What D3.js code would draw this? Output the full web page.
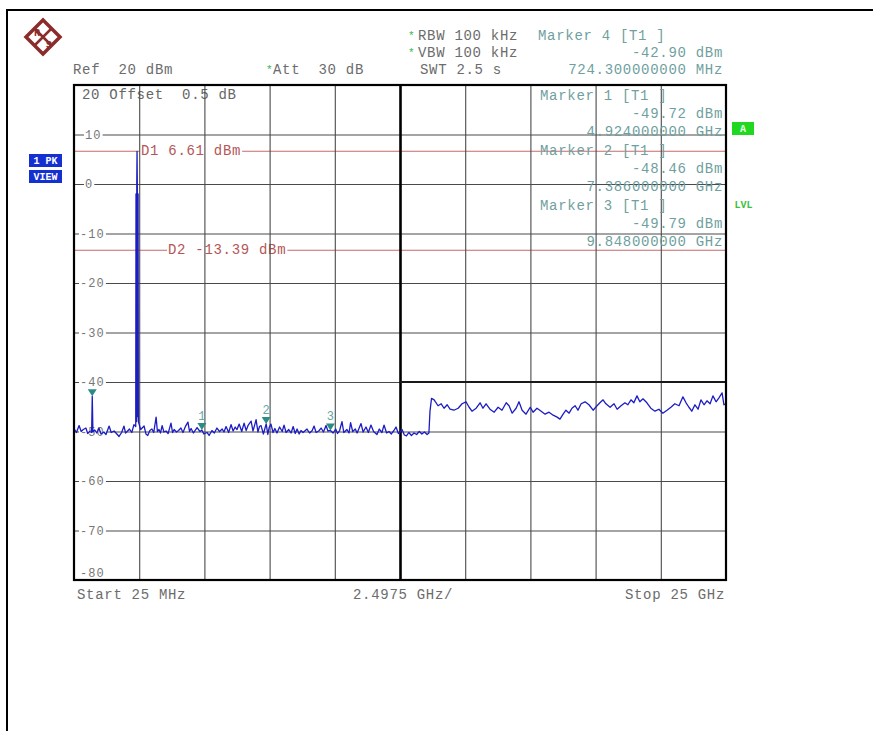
<!DOCTYPE html>
<html><head><meta charset="utf-8">
<script src="https://cdn.jsdelivr.net/npm/d3@7"></script>
<style>html,body{margin:0;padding:0;background:#fff;} text{white-space:pre;}</style>
</head><body><svg id="c" width="873" height="731" xmlns="http://www.w3.org/2000/svg"></svg>
<script>
// ---------------- data ----------------
const freqStartGHz = 0.025, freqStopGHz = 25, freqDivGHz = 2.4975, divisions = 10;
const refLevelDbm = 20, bottomLevelDbm = -80;
const yTickValues = [10, 0, -10, -20, -30, -40, -50, -60, -70, -80];
const yTickLabels = ["10", "0", "-10", "-20", "-30", "-40", "-50", "-60", "-70", "-80"];
const displayLineNames = ["D1", "D2"];
const displayLineLevels = [6.61, -13.39];
const displayLineLabels = ["D1 6.61 dBm", "D2 -13.39 dBm"];
const markerNumbers = [1, 2, 3, 4];
const markerFreqGHz = [4.924, 7.386, 9.848, 0.7243];
const markerLevelDbm = [-49.72, -48.46, -49.79, -42.90];
const markerLevelText = ["-49.72 dBm", "-48.46 dBm", "-49.79 dBm", "-42.90 dBm"];
const markerFreqText = ["4.924000000 GHz", "7.386000000 GHz", "9.848000000 GHz", "724.300000000 MHz"];
const headerLeft = ["Ref  20 dBm"];
const headerAtt = ["Att  30 dB"];
const headerSweep = ["RBW 100 kHz", "VBW 100 kHz", "SWT 2.5 s"];
const footerTexts = ["Start 25 MHz", "2.4975 GHz/", "Stop 25 GHz"];
const topPlotText = "20 Offset  0.5 dB";

// trace: [frequency GHz, level dBm]
const trace = [
[0.025,-49.4],[0.12,-50.2],[0.22,-48.8],[0.30,-50.0],[0.38,-49.6],[0.48,-49.3],[0.55,-50.4],[0.62,-50.0],
[0.70,-50.2],[0.7243,-42.9],[0.75,-50.1],[0.82,-49.7],[0.90,-50.3],[0.98,-49.3],[1.06,-50.5],[1.17,-50.1],
[1.25,-50.6],[1.37,-48.9],[1.45,-50.2],[1.56,-49.9],[1.65,-50.4],[1.75,-51.0],[1.85,-50.2],[1.94,-48.9],
[2.00,-50.3],[2.06,-50.0],[2.15,-49.5],[2.24,-50.2],[2.32,-48.6],[2.39,-49.0],[2.40,-2.0],[2.42,-48.0],
[2.43,0.5],[2.44,6.61],[2.45,0.0],[2.46,-47.0],[2.48,-2.0],[2.49,-48.0],[2.58,-49.6],[2.71,-48.9],[2.78,-50.5],[2.85,-50.8],
[2.93,-49.8],[3.01,-49.5],[3.08,-50.2],[3.17,-47.1],[3.22,-50.0],[3.28,-49.6],[3.34,-50.3],[3.40,-48.8],
[3.47,-50.1],[3.55,-49.9],[3.63,-50.4],[3.74,-48.3],[3.80,-50.2],[3.86,-49.6],[3.95,-50.1],[4.03,-49.8],
[4.12,-49.3],[4.20,-50.2],[4.30,-48.9],[4.39,-48.1],[4.45,-50.0],[4.51,-49.4],[4.60,-50.3],[4.74,-49.2],
[4.85,-50.0],[4.924,-49.72],[5.00,-50.5],[5.12,-50.2],[5.20,-50.8],[5.31,-49.8],[5.40,-50.3],[5.50,-49.3],
[5.60,-50.0],[5.70,-49.5],[5.77,-50.1],[5.85,-49.0],[5.95,-50.2],[6.04,-48.6],[6.12,-49.9],[6.20,-49.1],
[6.27,-49.6],[6.35,-48.5],[6.45,-50.0],[6.54,-48.3],[6.62,-49.8],[6.70,-48.7],[6.81,-47.9],[6.88,-49.9],
[6.95,-48.6],[7.00,-47.6],[7.07,-50.1],[7.13,-49.0],[7.19,-48.8],[7.28,-50.5],[7.386,-48.46],[7.45,-50.6],
[7.50,-49.2],[7.57,-48.5],[7.65,-50.2],[7.72,-49.4],[7.80,-50.3],[7.90,-49.1],[8.00,-50.0],[8.07,-48.7],
[8.15,-50.2],[8.25,-49.6],[8.34,-50.3],[8.42,-49.0],[8.50,-50.4],[8.57,-49.5],[8.65,-50.5],[8.72,-49.8],
[8.80,-50.2],[8.95,-49.5],[9.05,-50.3],[9.15,-49.8],[9.22,-48.9],[9.30,-50.2],[9.40,-49.9],[9.49,-49.3],
[9.58,-50.1],[9.68,-48.8],[9.75,-49.9],[9.848,-49.79],[9.95,-50.3],[10.05,-49.5],[10.12,-50.4],[10.20,-49.8],
[10.29,-48.0],[10.36,-50.2],[10.48,-49.6],[10.56,-50.3],[10.62,-48.2],[10.70,-50.0],[10.80,-49.5],[10.87,-50.3],
[11.02,-48.4],[11.10,-50.1],[11.21,-49.1],[11.30,-50.2],[11.40,-48.7],[11.50,-50.0],[11.63,-50.6],[11.72,-49.5],
[11.82,-50.2],[11.90,-48.7],[12.00,-50.3],[12.09,-50.0],[12.18,-50.5],[12.28,-49.8],[12.36,-49.1],[12.45,-50.4],
[12.52,-50.1],[12.59,-49.6],[12.68,-50.7],[12.76,-50.9],[12.85,-50.2],[12.95,-50.8],[13.05,-50.3],[13.15,-50.6],
[13.25,-50.0],[13.35,-50.5],[13.45,-50.1],[13.55,-50.6],[13.62,-50.3],[13.66,-46.0],[13.72,-43.3],
[13.82,-43.6],[13.97,-44.8],[14.09,-44.4],[14.20,-45.3],[14.32,-44.6],[14.43,-45.5],[14.58,-45.7],[14.74,-45.3],
[14.89,-44.4],[15.04,-44.0],[15.16,-45.1],[15.27,-45.9],[15.43,-45.3],[15.58,-44.2],[15.69,-45.3],[15.81,-44.4],
[15.96,-45.5],[16.12,-46.1],[16.27,-45.1],[16.42,-45.7],[16.58,-44.2],[16.69,-44.8],[16.81,-46.3],[16.96,-45.3],
[17.07,-44.0],[17.19,-45.7],[17.34,-46.5],[17.50,-45.1],[17.61,-46.1],[17.76,-45.3],[17.92,-45.9],[18.07,-46.5],
[18.22,-46.1],[18.38,-46.7],[18.53,-47.1],[18.64,-47.5],[18.76,-46.5],[18.87,-45.7],[18.99,-46.3],[19.10,-45.3],
[19.22,-44.8],[19.33,-45.7],[19.45,-44.4],[19.60,-44.0],[19.75,-44.6],[19.91,-45.7],[20.06,-44.8],[20.17,-44.2],
[20.29,-43.6],[20.40,-44.4],[20.56,-45.1],[20.71,-44.4],[20.83,-45.5],[20.98,-44.8],[21.13,-44.2],[21.24,-44.6],
[21.36,-43.6],[21.47,-44.2],[21.59,-42.8],[21.70,-44.0],[21.82,-43.4],[21.97,-44.2],[22.12,-45.3],[22.28,-45.9],
[22.43,-45.5],[22.58,-46.3],[22.74,-45.7],[22.89,-45.1],[23.04,-44.4],[23.20,-44.8],[23.35,-43.0],[23.47,-44.2],
[23.58,-45.1],[23.69,-45.9],[23.81,-44.6],[23.93,-45.5],[24.04,-43.6],[24.16,-44.6],[24.27,-43.8],[24.39,-44.4],
[24.50,-42.8],[24.62,-44.0],[24.73,-43.2],[24.85,-42.2],[24.92,-44.6],[25.00,-44.4]
];

// ---------------- drawing ----------------
const FONT = "'Liberation Mono','Courier New',monospace";
const svg = d3.select("#c");
svg.append("rect").attr("width", 873).attr("height", 731).attr("fill", "#fff");

const L = 74, R = 726, T = 85, B = 580;
const x = d3.scaleLinear().domain([freqStartGHz, freqStopGHz]).range([L, R]);
const y = d3.scaleLinear().domain([bottomLevelDbm, refLevelDbm]).range([B, T]);

// outer frame
svg.append("path").attr("d", "M7,731 V10 H873").attr("fill", "none").attr("stroke", "#000").attr("stroke-width", 2);

// logo
const logo = svg.append("g").attr("transform", "translate(43,37)");
logo.append("path").attr("d", "M0,-17 L17,0 L0,17 L-17,0 Z").attr("fill", "#fff").attr("stroke", "#8a2c2c").attr("stroke-width", 3.5);
logo.append("path").attr("d", "M-8,-8 L8,8 M8,-8 L-8,8").attr("stroke", "#8a2c2c").attr("stroke-width", 2.5);
logo.append("text").attr("x", -6).attr("y", -1).attr("font-family", FONT).attr("font-size", 10).attr("font-weight", "bold").attr("fill", "#8a2c2c").attr("text-anchor", "middle").text("R");
logo.append("text").attr("x", 6).attr("y", 11).attr("font-family", FONT).attr("font-size", 10).attr("font-weight", "bold").attr("fill", "#8a2c2c").attr("text-anchor", "middle").text("S");

function txt(g, xx, yy, s, opts = {}) {
  return g.append("text").attr("x", xx).attr("y", yy)
    .attr("font-family", FONT).attr("font-size", opts.size || 14)
    .attr("letter-spacing", opts.ls != null ? opts.ls : 0.7)
    .attr("fill", opts.fill || "#6c6c6c")
    .attr("text-anchor", opts.anchor || "start")
    .attr("font-weight", opts.weight || "normal")
    .attr("xml:space", "preserve")
    .text(s);
}
function star(xx, yy) {
  svg.append("text").attr("x", xx).attr("y", yy).attr("font-family", FONT).attr("font-size", 11)
    .attr("fill", "#2fb84a").text("*");
}

// header
const headerY = [40, 57, 74];
txt(svg, 73, headerY[2], headerLeft[0]);
star(266, headerY[2] - 1); txt(svg, 273, headerY[2], headerAtt[0]);
star(408, headerY[0] - 1); txt(svg, 418, headerY[0], headerSweep[0]);
star(408, headerY[1] - 1); txt(svg, 418, headerY[1], headerSweep[1]);
txt(svg, 420, headerY[2], headerSweep[2]);
const MCOL = "#6f9fa0";
txt(svg, 538, headerY[0], "Marker " + markerNumbers[3] + " [T1 ]", {fill: MCOL});
txt(svg, 723, headerY[1], markerLevelText[3], {fill: MCOL, anchor: "end"});
txt(svg, 723, headerY[2], markerFreqText[3], {fill: MCOL, anchor: "end"});

// plot layer
const plot = svg.append("g");
// horizontal grid
const hGrid = plot.append("g").attr("transform", `translate(${L},0)`)
  .call(d3.axisLeft(y).tickValues(yTickValues.filter(v => v > bottomLevelDbm)).tickSize(-(R - L)).tickFormat(""));
hGrid.select(".domain").remove();
hGrid.selectAll("line").attr("stroke", "#4a4a4a").attr("stroke-width", 1.1);

// display lines
const dl = plot.append("g");
displayLineLevels.forEach((lv, i) => {
  dl.append("line").attr("x1", L).attr("x2", R).attr("y1", y(lv)).attr("y2", y(lv))
    .attr("stroke", "#c86a6a").attr("stroke-width", 1.1);
});

// tick labels with white backgrounds
const labG = plot.append("g");
yTickValues.forEach((v, i) => {
  const s = yTickLabels[i];
  const yy = v === bottomLevelDbm ? y(v) - 7 : y(v);
  const xx = s.startsWith("-") ? 80 : 85;
  const t = txt(labG, xx, yy + 4, s, {size: 12, ls: 1.1, fill: "#777"});
  const bb = t.node().getBBox();
  labG.insert("rect", "text").attr("x", bb.x - 1).attr("y", bb.y + 2).attr("width", bb.width + 2).attr("height", bb.height - 4).attr("fill", "#fff");
});
txt(labG, 82, 99, topPlotText, {fill: "#666"});

// display line labels
const dLabX = [141, 168];
displayLineLevels.forEach((lv, i) => {
  const t = txt(labG, dLabX[i], y(lv) + 4, displayLineLabels[i], {fill: "#b45656"});
  const bb = t.node().getBBox();
  labG.insert("rect", "text").attr("x", bb.x - 1).attr("y", bb.y + 2).attr("width", bb.width + 2).attr("height", bb.height - 4).attr("fill", "#fff");
});

// vertical grid
const vTicks = d3.range(1, divisions).map(i => freqStartGHz + i * freqDivGHz);
const vGrid = plot.append("g").attr("transform", `translate(0,${B})`)
  .call(d3.axisBottom(x).tickValues(vTicks).tickSize(-(B - T)).tickFormat(""));
vGrid.select(".domain").remove();
vGrid.selectAll("line").attr("stroke", "#4a4a4a").attr("stroke-width", 1.1);
vGrid.selectAll(".tick").filter((d, i) => i === 4).select("line").attr("stroke", "#000").attr("stroke-width", 2.6);

// bold -40 line on right half
plot.append("line").attr("x1", x(vTicks[4])).attr("x2", R).attr("y1", y(-40)).attr("y2", y(-40))
  .attr("stroke", "#1a1a1a").attr("stroke-width", 1.8);

// marker text inside plot (markers 1..3)
const mBase = [100, 118, 136];
for (let i = 0; i < 3; i++) {
  const y0 = mBase[0] + i * 55;
  txt(plot, 540, y0, "Marker " + markerNumbers[i] + " [T1 ]", {fill: MCOL});
  txt(plot, 723, y0 + 18, markerLevelText[i], {fill: MCOL, anchor: "end"});
  txt(plot, 723, y0 + 36, markerFreqText[i], {fill: MCOL, anchor: "end"});
}

// trace
const line = d3.line().x(d => x(d[0])).y(d => y(d[1]));
plot.append("path").datum(trace).attr("d", line).attr("fill", "none")
  .attr("stroke", "#1c1cc4").attr("stroke-width", 1.3).attr("stroke-linejoin", "round");

// markers (marker 4's number sits under the -40 label, as in the reference)
markerFreqGHz.forEach((f, i) => {
  const mx = x(f), my = y(markerLevelDbm[i]);
  plot.append("path").attr("d", `M${mx},${my} L${mx - 4.5},${my - 7} L${mx + 4.5},${my - 7} Z`).attr("fill", "#2b8c84");
  if (markerNumbers[i] !== 4) {
    plot.append("text").attr("x", mx).attr("y", my - 10).attr("font-family", FONT).attr("font-size", 12)
      .attr("text-anchor", "middle").attr("fill", "#5ea9a2").text(markerNumbers[i]);
  }
});

// plot border
plot.append("rect").attr("x", L).attr("y", T).attr("width", R - L).attr("height", B - T)
  .attr("fill", "none").attr("stroke", "#000").attr("stroke-width", 2.2);

// left boxes
[["1 PK", 154], ["VIEW", 170]].forEach(([s, yy]) => {
  svg.append("rect").attr("x", 29).attr("y", yy).attr("width", 33).attr("height", 13).attr("fill", "#1530d0");
  svg.append("text").attr("x", 45.5).attr("y", yy + 10).attr("font-family", FONT).attr("font-size", 10)
    .attr("font-weight", "bold").attr("fill", "#fff").attr("text-anchor", "middle").attr("xml:space", "preserve").text(s);
});
// right indicators
svg.append("rect").attr("x", 732).attr("y", 122).attr("width", 22).attr("height", 13).attr("fill", "#1fd81f");
svg.append("text").attr("x", 743).attr("y", 132).attr("font-family", FONT).attr("font-size", 10).attr("font-weight", "bold")
  .attr("fill", "#e8ffe8").attr("text-anchor", "middle").text("A");
svg.append("text").attr("x", 743.5).attr("y", 208).attr("font-family", FONT).attr("font-size", 10).attr("font-weight", "bold")
  .attr("fill", "#3fbf3f").attr("text-anchor", "middle").text("LVL");

// footer
txt(svg, 77, 599, footerTexts[0]);
txt(svg, 353, 599, footerTexts[1]);
txt(svg, 725, 599, footerTexts[2], {anchor: "end"});
</script></body></html>
